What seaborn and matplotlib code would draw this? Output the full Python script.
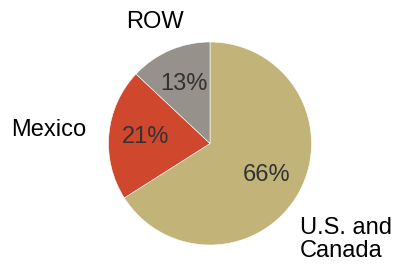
import matplotlib
matplotlib.use("Agg")
import matplotlib.pyplot as plt
import seaborn as sns
import numpy as np

# data
regions = ["U.S. and\nCanada", "Mexico", "ROW"]
shares = [66, 21, 13]
colors = ["#C2B378", "#CF472C", "#96918A"]

# where the outer labels sit (pixels in the 395x266 image) and how they align
label_px = [(300, 217, "left", "top"), (49, 130, "center", "center"), (155, 22, "center", "center")]

sns.set_theme(style="white")
plt.rcParams["font.family"] = ["Liberation Sans", "DejaVu Sans"]

W, H = 395, 266
cx, cy, r = 210, 143.5, 101.5

fig = plt.figure(figsize=(W / 100, H / 100), dpi=100)
ax = fig.add_axes([(cx - r) / W, (H - cy - r) / H, 2 * r / W, 2 * r / H])

wedges, texts = ax.pie(
    shares,
    colors=colors,
    startangle=90,
    counterclock=False,
    radius=1,
    wedgeprops=dict(edgecolor="white", linewidth=0.4),
)

# percent labels inside the wedges
for w, v in zip(wedges, shares):
    ang = np.deg2rad((w.theta1 + w.theta2) / 2)
    ax.text(0.64 * np.cos(ang), 0.64 * np.sin(ang), f"{v}%",
            ha="center", va="center", fontsize=17, color="#333333")

# category labels outside
for name, (px, py, ha, va) in zip(regions, label_px):
    ax.text((px - cx) / r, (cy - py) / r, name, ha=ha, va=va,
            fontsize=17, color="black", linespacing=1.05)

ax.set_xlim(-1, 1)
ax.set_ylim(-1, 1)
ax.set_aspect("equal")
ax.axis("off")

fig.savefig("out.png", dpi=100)
